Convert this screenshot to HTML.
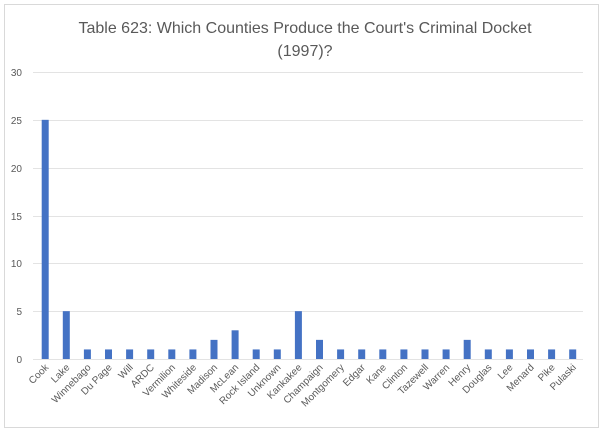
<!DOCTYPE html>
<html><head><meta charset="utf-8"><style>
body{margin:0;background:#fff;}
</style></head><body>
<svg width="604" height="434" xmlns="http://www.w3.org/2000/svg" font-family="Liberation Sans, sans-serif">
<rect x="4.5" y="4.5" width="594" height="423" fill="#fff" stroke="#d9d9d9"/>
<text x="305" y="33" font-size="16" fill="#595959" text-anchor="middle">Table 623: Which Counties Produce the Court's Criminal Docket</text>
<text x="305" y="56" font-size="16" fill="#595959" text-anchor="middle">(1997)?</text>
<g stroke="#e3e3e3" stroke-width="1">
<line x1="33" x2="583" y1="72.5" y2="72.5"/>
<line x1="33" x2="583" y1="120.5" y2="120.5"/>
<line x1="33" x2="583" y1="168.5" y2="168.5"/>
<line x1="33" x2="583" y1="216.5" y2="216.5"/>
<line x1="33" x2="583" y1="263.5" y2="263.5"/>
<line x1="33" x2="583" y1="311.5" y2="311.5"/>
<line x1="33" x2="583" y1="359.5" y2="359.5"/>
</g>
<g font-size="10" fill="#595959" text-anchor="end">
<text x="22" y="76">30</text><text x="22" y="124">25</text><text x="22" y="172">20</text>
<text x="22" y="220">15</text><text x="22" y="267">10</text><text x="22" y="315">5</text><text x="22" y="363">0</text>
</g>
<g id="bars" fill="#4472c4"></g>
<g id="labels" font-size="10" fill="#595959" text-anchor="end"></g>
<script>
var names=["Cook","Lake","Winnebago","Du Page","Will","ARDC","Vermilion","Whiteside","Madison","McLean","Rock Island","Unknown","Kankakee","Champaign","Montgomery","Edgar","Kane","Clinton","Tazewell","Warren","Henry","Douglas","Lee","Menard","Pike","Pulaski"];
var vals=[25,5,1,1,1,1,1,1,2,3,1,1,5,2,1,1,1,1,1,1,2,1,1,1,1,1];
var b=document.getElementById("bars"),l=document.getElementById("labels"),ns="http://www.w3.org/2000/svg";
for(var i=0;i<26;i++){var cx=45.2+i*21.1;var h=vals[i]*9.567;
var r=document.createElementNS(ns,"rect");r.setAttribute("x",cx-3.5);r.setAttribute("y",359-h);r.setAttribute("width",7);r.setAttribute("height",h);b.appendChild(r);
var t=document.createElementNS(ns,"text");t.setAttribute("transform","translate("+(cx+4)+",368) rotate(-45)");t.textContent=names[i];l.appendChild(t);}
</script>
</svg>
</body></html>
